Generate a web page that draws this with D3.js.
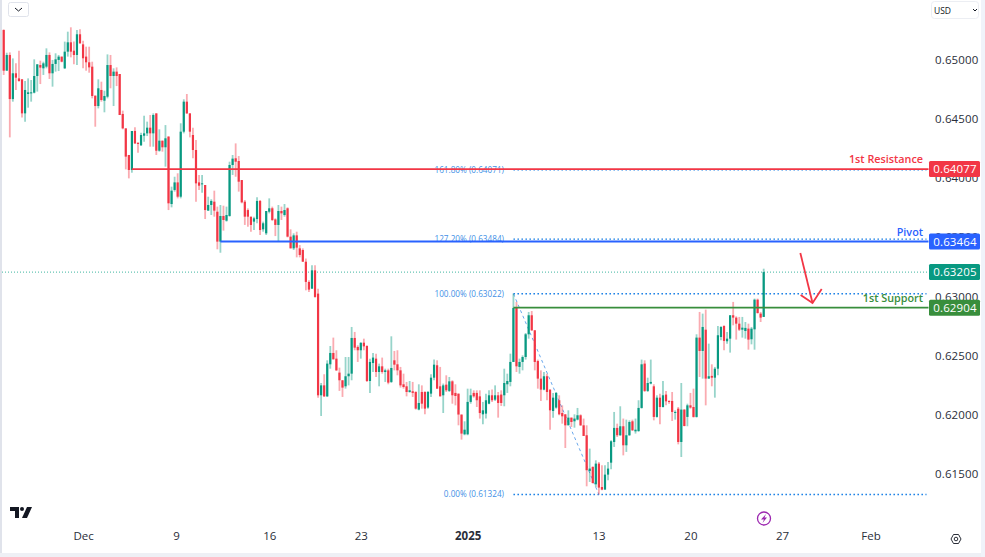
<!DOCTYPE html>
<html>
<head>
<meta charset="utf-8">
<script src="https://cdn.jsdelivr.net/npm/d3@7/dist/d3.min.js"></script>
<style>
html, body { margin: 0; padding: 0; background: #fff; overflow: hidden; }
text { font-family: "Open Sans", sans-serif; }
</style>
</head>
<body>
<div id="vis"></div>
<script>
var width = 985,
    height = 557;

// 4h candles, prices in points (1/100000)
var opens = [65253,64909,65042,64669,64887,64844,64836,64548,64712,64717,64723,64864,64957,64929,64943,65042,64887,64966,65000,65028,
64929,65070,65149,65078,65042,65217,65132,65028,64980,64943,64698,64610,64746,64655,64689,64957,64864,64901,64881,64543,
64421,64196,64069,64399,64300,64278,64359,64379,64427,64379,64548,64232,64317,64261,64351,63781,63900,63964,63843,64393,
64647,64548,64365,64238,63964,63948,63942,63725,63773,63801,63716,63463,63680,63640,63680,64111,64168,64145,63984,63801,
63730,63674,63632,63654,63807,63567,63533,63716,63745,63651,63604,63722,63688,63745,63505,63406,63516,63406,63392,63293,
63122,63065,63220,63023,62163,62247,62154,62425,62521,62473,62355,62290,62239,62324,62346,62648,62572,62544,62608,62580,
62284,62436,62473,62360,62408,62360,62374,62276,62459,62425,62374,62256,62239,62191,62197,62191,62042,62191,62191,62059,
62177,62312,62417,62239,62163,62253,62200,62281,62183,62177,62000,61833,61833,62107,62183,62183,62154,62002,62008,62092,
62163,62126,62163,62169,62163,62256,62276,62445,62902,62403,62445,62487,62679,62840,62713,62453,62304,62211,62324,62211,
62030,62059,62121,62013,62002,61909,61974,61943,61957,61994,61909,61825,61523,61557,61410,61585,61387,61365,61492,61593,
61768,61887,61825,61901,61740,61825,61943,61858,61861,62056,62431,62200,62262,62239,61980,62143,62064,62169,62115,62115,
62016,62050,61768,62042,61980,62078,62064,61980,62651,62538,62718,62304,62327,62312,62388,62656,62749,62620,62642,62840,
62820,62769,62718,62707,62727,62637,62721,62972,62854,62826];
var highs = [65259,65061,65064,65013,64971,65078,64836,64822,64844,64830,65005,64963,64994,64985,65098,65064,65000,65056,65042,65028,
65155,65239,65276,65155,65253,65259,65163,65112,65112,64985,64698,64836,64816,64740,65047,65042,64929,64937,64881,64571,
64421,64196,64399,64430,64300,64385,64528,64478,64534,64548,64548,64413,64317,64449,64356,63928,64012,64041,64464,64667,
64712,64548,64427,64323,64027,64027,63942,63843,63821,63894,63759,63773,63767,63759,64139,64196,64294,64187,63984,63815,
63744,63674,63674,63838,63815,63632,63722,63829,63759,63660,63773,63759,63781,63753,63567,63533,63547,63434,63406,63320,
63136,63263,63263,63065,62267,62341,62459,62580,62651,62544,62397,62290,62487,62487,62741,62699,62586,62614,62642,62586,
62473,62521,62515,62431,62482,62388,62388,62662,62538,62544,62403,62346,62276,62284,62276,62197,62256,62247,62197,62200,
62341,62465,62459,62403,62262,62332,62318,62290,62256,62177,62000,61943,62219,62219,62205,62205,62205,62107,62177,62205,
62211,62247,62191,62205,62388,62346,62515,63023,62953,62473,62501,62690,62868,62876,62713,62465,62374,62360,62346,62211,
62183,62191,62163,62078,62002,62036,61974,62002,62056,62002,61966,61909,61712,61562,61613,61599,61571,61571,61599,61782,
62022,61923,62070,61966,61957,61951,61957,61966,62121,62465,62459,62312,62465,62256,62163,62177,62284,62200,62121,62191,
62036,62064,62267,62045,62092,62183,62219,62679,62868,62854,62888,62600,62425,62403,62749,62747,62755,62699,62840,62953,
62831,62826,62826,62783,62769,62741,62981,62981,62868,63234];
var lows = [64873,64909,64345,64647,64746,64816,64512,64478,64596,64647,64717,64732,64796,64873,64929,64839,64774,64901,64906,64980,
64923,65028,65022,64963,64957,65140,64929,64909,64892,64675,64435,64590,64647,64557,64675,64760,64610,64779,64534,64413,
64074,63998,64046,64289,64215,64272,64308,64356,64266,64266,64196,64224,64224,64097,63730,63753,63886,63829,63829,64379,
64543,64345,64168,63801,63900,63877,63654,63725,63688,63674,63398,63369,63556,63632,63674,64027,64012,63886,63787,63604,
63589,63547,63561,63618,63519,63547,63519,63702,63637,63510,63463,63646,63674,63499,63406,63392,63330,63330,63293,63051,
63037,63065,62989,62143,61988,62149,62149,62388,62467,62369,62200,62149,62219,62247,62290,62544,62445,62473,62544,62276,
62183,62360,62318,62239,62346,62276,62256,62267,62374,62332,62228,62219,62154,62185,62149,62042,62036,62050,62002,62050,
62149,62290,62219,62154,62013,62191,62191,62092,62078,61909,61788,61825,61825,62092,62143,62064,61966,61918,61966,62087,
62107,62115,61974,62073,62070,62183,62239,62445,62360,62346,62374,62465,62642,62707,62374,62219,62115,62205,62121,61872,
61974,62050,61994,61923,61717,61909,61895,61889,61951,61903,61819,61393,61430,61416,61387,61324,61359,61365,61444,61537,
61726,61810,61819,61655,61684,61819,61861,61839,61853,62050,62191,62191,62256,61951,61974,61918,62059,62078,62092,61946,
61957,61748,61641,61901,61901,62050,61974,61974,62318,62304,62078,62304,62239,62143,62332,62628,62544,62600,62524,62755,
62634,62707,62651,62642,62549,62594,62549,62854,62783,62826];
var closes = [64909,65042,64669,64887,64850,64822,64548,64746,64726,64726,64864,64963,64935,64971,65042,64887,64966,65005,65028,64985,
65070,65149,65070,65042,65217,65140,65014,64980,64937,64695,64610,64760,64661,64695,64957,64864,64901,64864,64534,64421,
64182,64069,64399,64294,64289,64365,64379,64427,64379,64534,64232,64317,64261,64337,63787,63894,63964,63843,64393,64647,
64548,64393,64238,63956,63936,63956,63730,63773,63807,63725,63463,63680,63646,63688,64111,64165,64139,63970,63795,63674,
63674,63604,63660,63807,63561,63618,63722,63745,63646,63604,63722,63702,63730,63505,63406,63516,63412,63350,63293,63122,
63057,63220,62995,62163,62247,62154,62431,62521,62467,62374,62290,62228,62324,62346,62648,62566,62544,62606,62577,62284,
62445,62482,62360,62408,62360,62374,62270,62394,62422,62374,62247,62233,62191,62205,62183,62050,62098,62092,62050,62191,
62312,62422,62219,62154,62247,62205,62281,62163,62157,62000,61839,61872,62107,62163,62154,62121,62013,62036,62121,62163,
62121,62163,62098,62098,62267,62284,62445,62902,62408,62445,62487,62679,62840,62713,62445,62304,62211,62324,62191,62036,
62143,62183,62002,61985,61909,61974,61937,61966,61994,61909,61819,61529,61543,61421,61585,61382,61365,61492,61543,61774,
61887,61825,61901,61740,61825,61937,61867,61872,62056,62425,62200,62267,62276,61980,62143,62064,62163,62112,62107,62022,
62022,61768,62042,61903,62078,62059,61980,62651,62538,62741,62304,62324,62312,62388,62671,62741,62623,62642,62840,62820,
62769,62718,62735,62733,62634,62727,62972,62859,62820,63205];

// axis ticks
var priceTicks = [0.65, 0.645, 0.64, 0.635, 0.63, 0.625, 0.62, 0.615];
var timeLabels = ["Dec", "9", "16", "23", "2025", "13", "20", "27", "Feb"];
var timeIndex = [26, 56.5, 87, 117, 152, 194.9, 225, 255, 284];

// hand drawn levels
var levelNames = ["1st Resistance", "Pivot", "1st Support"];
var levelPrices = [0.64077, 0.63464, 0.62904];
var levelStart = [42, 71, 167];
var levelColors = ["#f23645", "#2962ff", "#388e3c"];
var lastPrice = 0.63205;

// fib retracement
var fibNames = ["161.80% (0.64071)", "127.20% (0.63484)", "100.00% (0.63022)", "0.00% (0.61324)"];
var fibPrices = [0.64071, 0.63484, 0.63022, 0.61324];
var fibTrend = [[167, 0.63022], [195, 0.61324]];

// red arrow, [index, price]
var arrowShaft = [[261, 0.63367], [265, 0.62944]];
var arrowHead = [[261.1, 0.63011], [265, 0.62944], [268, 0.63062]];

var lastIndex = 303;

var x = d3.scaleLinear().domain([0, 249]).range([3.7, 763.7]);
var y = d3.scaleLinear().domain([0.65507, 0.60795]).range([0, 557]);
var p = function(v) { return v / 100000; };

var svg = d3.select("#vis").append("svg")
    .attr("width", width)
    .attr("height", height)
    .style("display", "block")
    .style("background", "#fff");

// frame strips
svg.append("rect").attr("x", 0).attr("y", 0).attr("width", 2).attr("height", height).attr("fill", "#e0e3eb");
svg.append("rect").attr("x", 0).attr("y", 553).attr("width", width).attr("height", 4).attr("fill", "#eef0f5");
svg.append("rect").attr("x", 981).attr("y", 0).attr("width", 4).attr("height", height).attr("fill", "#f0f3fa");

// fib lines go under the candles
svg.selectAll(".fib").data(fibPrices).enter().append("line")
    .attr("class", "fib")
    .attr("x1", x(fibTrend[0][0]))
    .attr("x2", x(lastIndex) - 2)
    .attr("y1", function(d) { return y(d); })
    .attr("y2", function(d) { return y(d); })
    .attr("stroke", "#1e82e6")
    .attr("stroke-width", 1.4)
    .attr("stroke-dasharray", "1.6 2.4");

svg.append("path")
    .attr("fill", "none")
    .attr("stroke", "#6aa8ec")
    .attr("stroke-width", 1)
    .attr("stroke-dasharray", "3 3")
    .attr("d", d3.line().x(function(d) { return x(d[0]); }).y(function(d) { return y(d[1]); })(fibTrend));

svg.selectAll(".fibLabel").data(fibNames).enter().append("text")
    .attr("class", "fibLabel")
    .attr("x", 504)
    .attr("y", function(d, i) { return y(fibPrices[i]) + 3; })
    .attr("text-anchor", "end")
    .attr("font-size", 8.2)
    .attr("font-weight", 500)
    .attr("fill", "#3f90e6")
    .text(function(d) { return d; });

// last price line
svg.append("line")
    .attr("x1", 2).attr("x2", x(lastIndex))
    .attr("y1", y(lastPrice)).attr("y2", y(lastPrice))
    .attr("stroke", "#3fb5a0")
    .attr("stroke-width", 1)
    .attr("stroke-dasharray", "1 2");

// candles
var candles = svg.append("g").selectAll("g").data(opens).enter().append("g");

candles.append("line")
    .attr("x1", function(d, i) { return x(i); })
    .attr("x2", function(d, i) { return x(i); })
    .attr("y1", function(d, i) { return y(p(highs[i])); })
    .attr("y2", function(d, i) { return y(p(lows[i])); })
    .attr("stroke", function(d, i) { return closes[i] >= d ? "#089981" : "#f23645"; })
    .attr("stroke-opacity", 0.42)
    .attr("stroke-width", 1.8);

candles.append("rect")
    .attr("x", function(d, i) { return x(i) - 1.1; })
    .attr("width", 2.2)
    .attr("y", function(d, i) { return y(p(Math.max(d, closes[i]))); })
    .attr("height", function(d, i) { return Math.max(1, y(p(Math.min(d, closes[i]))) - y(p(Math.max(d, closes[i])))); })
    .attr("fill", function(d, i) { return closes[i] >= d ? "#089981" : "#f23645"; });

// levels
svg.selectAll(".level").data(levelPrices).enter().append("line")
    .attr("class", "level")
    .attr("x1", function(d, i) { return x(levelStart[i]); })
    .attr("x2", x(lastIndex))
    .attr("y1", function(d) { return y(d); })
    .attr("y2", function(d) { return y(d); })
    .attr("stroke", function(d, i) { return levelColors[i]; })
    .attr("stroke-width", 1.8);

svg.selectAll(".levelName").data(levelNames).enter().append("text")
    .attr("class", "levelName")
    .attr("x", 923)
    .attr("y", function(d, i) { return y(levelPrices[i]) - 6; })
    .attr("text-anchor", "end")
    .attr("font-size", 10.8)
    .attr("font-weight", 600)
    .attr("fill", function(d, i) { return levelColors[i]; })
    .text(function(d) { return d; });

// arrow
var arrowLine = d3.line().x(function(d) { return x(d[0]); }).y(function(d) { return y(d[1]); });
[arrowShaft, arrowHead].forEach(function(pts) {
    svg.append("path")
        .attr("fill", "none")
        .attr("stroke", "#f23645")
        .attr("stroke-width", 1.8)
        .attr("d", arrowLine(pts));
});

// price axis
var yAxis = svg.append("g")
    .attr("transform", "translate(935,0)")
    .call(d3.axisRight(y).tickValues(priceTicks).tickSize(0).tickPadding(0).tickFormat(d3.format(".5f")));
yAxis.select(".domain").remove();
yAxis.selectAll("text")
    .attr("font-family", "'Open Sans', sans-serif")
    .attr("font-size", 11.5)
    .attr("letter-spacing", 0.15)
    .attr("fill", "#2a2e39");

// price tags
var tagPrices = levelPrices.concat([lastPrice]);
var tagColors = levelColors.concat(["#089981"]);
var tags = svg.selectAll(".tag").data(tagPrices).enter().append("g").attr("class", "tag");
tags.append("rect")
    .attr("x", 929)
    .attr("y", function(d) { return y(d) - 8; })
    .attr("width", 51)
    .attr("height", 16)
    .attr("rx", 1.5)
    .attr("fill", function(d, i) { return tagColors[i]; });
tags.append("text")
    .attr("x", 955)
    .attr("y", function(d) { return y(d) + 4; })
    .attr("text-anchor", "middle")
    .attr("font-size", 11.5)
    .attr("font-weight", 500)
    .attr("letter-spacing", 0.15)
    .attr("fill", "#fff")
    .text(function(d) { return d3.format(".5f")(d); });

// time axis
var xAxis = svg.append("g")
    .attr("transform", "translate(0,532)")
    .call(d3.axisBottom(x).tickValues(timeIndex).tickSize(0).tickPadding(0)
        .tickFormat(function(d, i) { return timeLabels[i]; }));
xAxis.select(".domain").remove();
xAxis.selectAll("text")
    .attr("font-family", "'Open Sans', sans-serif")
    .attr("font-size", 11.5)
    .attr("font-weight", function(d, i) { return timeLabels[i] == "2025" ? 700 : 400; })
    .attr("fill", "#2a2e39");

// top buttons
svg.append("rect").attr("x", 8.5).attr("y", 2.5).attr("width", 20).attr("height", 14).attr("rx", 2)
    .attr("fill", "#fff").attr("stroke", "#e0e3eb");
svg.append("path").attr("d", "M15 8L18.5 11L22 8").attr("fill", "none").attr("stroke", "#131722");
svg.append("rect").attr("x", 931.5).attr("y", 1.5).attr("width", 47).attr("height", 17).attr("rx", 3)
    .attr("fill", "#fff").attr("stroke", "#eceef3");
svg.append("text").attr("x", 934).attr("y", 13.5).attr("font-size", 8.5)
    .attr("fill", "#131722").text("USD");
svg.append("path").attr("d", "M973 9L975 11L977 9").attr("fill", "none").attr("stroke", "#131722");

// TradingView mark
svg.append("path").attr("fill", "#131722").attr("d", "M10 507H19V518H15V511H10Z");
svg.append("circle").attr("cx", 22).attr("cy", 509).attr("r", 2).attr("fill", "#131722");
svg.append("path").attr("fill", "#131722").attr("d", "M27 507H32L27 518H22Z");

// lightning badge
svg.append("circle").attr("cx", 764).attr("cy", 518.5).attr("r", 6.5)
    .attr("fill", "#fff").attr("stroke", "#9c27b0").attr("stroke-width", 1.3);
svg.append("path").attr("fill", "#9c27b0").attr("d", "M766 514L761 519.5H764L762.5 523L767 517.5H764.5Z");

// settings icon
svg.append("path").attr("fill", "none").attr("stroke", "#131722").attr("stroke-width", 0.9)
    .attr("d", "M951 539L953.5 534.5H958.5L961 539L958.5 543.5H953.5Z");
svg.append("circle").attr("cx", 956).attr("cy", 539).attr("r", 1.8)
    .attr("fill", "none").attr("stroke", "#131722").attr("stroke-width", 0.9);
</script>
</body>
</html>
